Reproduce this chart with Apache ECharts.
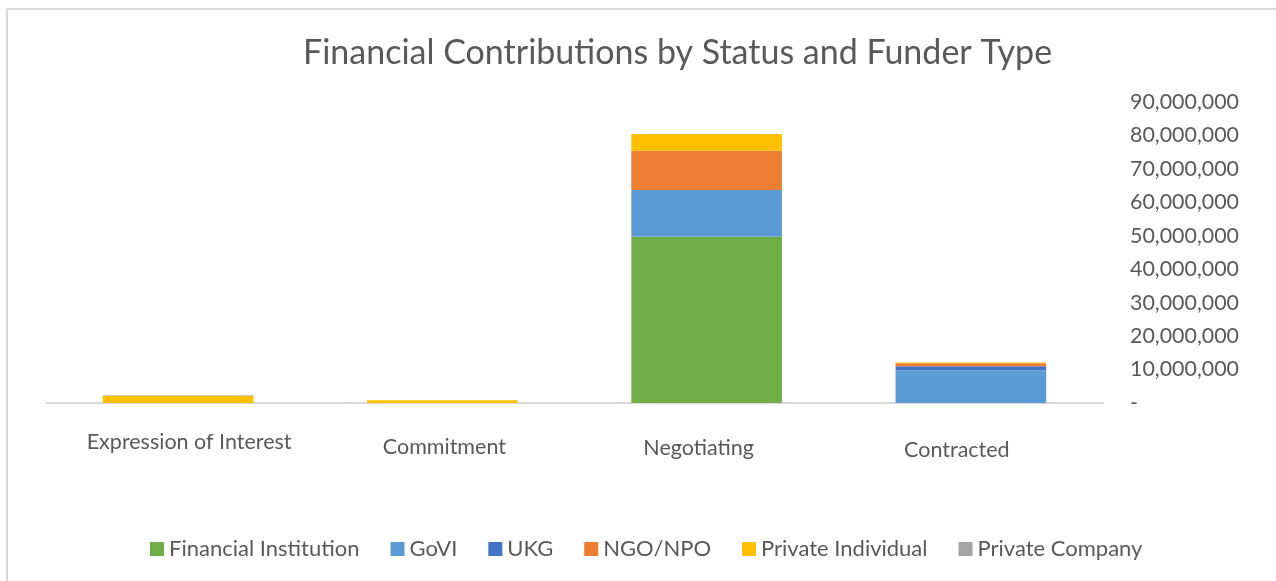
<!DOCTYPE html>
<html>
<head>
<meta charset="utf-8">
<script src="https://cdn.jsdelivr.net/npm/echarts@6/dist/echarts.min.js"></script>
<style>
  html, body { margin: 0; padding: 0; background: #ffffff; }
  #chart { width: 1276px; height: 581px; }
</style>
</head>
<body>
<div id="chart"></div>
<script>
const categories = ['Expression of Interest', 'Commitment', 'Negotiating', 'Contracted'];
const seriesNames = ['Financial Institution', 'GoVI', 'UKG', 'NGO/NPO', 'Private Individual', 'Private Company'];
const financialInstitution = [0, 0, 49700000, 0];
const goVI = [0, 0, 14000000, 9700000];
const ukg = [0, 0, 0, 1300000];
const ngoNpo = [0, 0, 11750000, 900000];
const privateIndividual = [2200000, 800000, 5000000, 200000];
const privateCompany = [150000, 0, 0, 0];
const yTicks = [0, 10000000, 20000000, 30000000, 40000000, 50000000, 60000000, 70000000, 80000000, 90000000];
// per-category label nudges [down, horizontal shift]
const labelDown = [0, 5, 6, 8];
const labelShift = [11, 2, -8, -14];

const colors = ['#70AD47', '#5B9BD5', '#4472C4', '#ED7D31', '#FFC000', '#A5A5A5'];
const seriesData = [financialInstitution, goVI, ukg, ngoNpo, privateIndividual, privateCompany];
const FONT = 'Lato, "Open Sans", sans-serif';

const chart = echarts.init(document.getElementById('chart'), null, { renderer: 'canvas' });
chart.setOption({
  backgroundColor: '#ffffff',
  animation: false,
  title: {
    text: 'Financial Contributions by Status and Funder Type',
    left: 298,
    top: 31,
    textStyle: { fontFamily: FONT, fontSize: 34, fontWeight: 'normal', color: '#595959' }
  },
  legend: {
    bottom: 16,
    left: 145,
    itemWidth: 14,
    itemHeight: 14,
    itemGap: 31,
    icon: 'rect',
    textStyle: { fontFamily: FONT, fontSize: 22, color: '#595959' },
    data: seriesNames
  },
  grid: { left: 46, right: 173, top: 102, bottom: 178, containLabel: false },
  xAxis: {
    type: 'category',
    data: categories.map((c, i) => ({
      value: c,
      textStyle: {
        padding: [labelDown[i], labelShift[i] < 0 ? -2 * labelShift[i] : 0, 0, labelShift[i] > 0 ? 2 * labelShift[i] : 0]
      }
    })),
    axisLine: { lineStyle: { color: '#d9d9d9', width: 2 } },
    axisTick: { show: false },
    axisLabel: { interval: 0, hideOverlap: false, margin: 28, fontFamily: FONT, fontSize: 21.5, color: '#595959' }
  },
  yAxis: {
    type: 'value',
    position: 'right',
    min: yTicks[0],
    max: yTicks[yTicks.length - 1],
    interval: 10000000,
    splitLine: { show: false },
    axisLine: { show: false },
    axisTick: { show: false },
    axisLabel: {
      margin: 27,
      align: 'left',
      fontFamily: FONT, fontSize: 21.4, color: '#595959',
      formatter: v => v === 0 ? '-' : v.toLocaleString('en-US')
    }
  },
  series: seriesNames.map((name, i) => ({
    name,
    type: 'bar',
    stack: 'total',
    barWidth: '57%',
    itemStyle: { color: colors[i] },
    data: seriesData[i]
  })),
  graphic: [
    { type: 'line', shape: { x1: 7, y1: 9, x2: 1276, y2: 9 }, style: { stroke: '#d9d9d9', lineWidth: 2 } },
    { type: 'line', shape: { x1: 7, y1: 9, x2: 7, y2: 581 }, style: { stroke: '#d9d9d9', lineWidth: 2 } }
  ]
});
</script>
</body>
</html>
